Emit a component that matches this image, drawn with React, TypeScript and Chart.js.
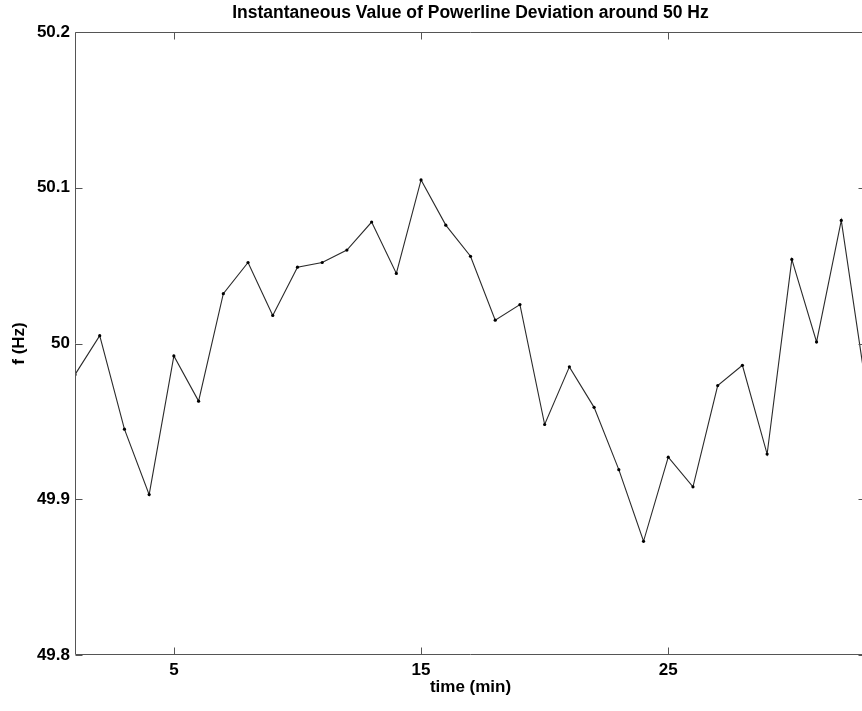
import React, { useEffect, useRef } from "react";
import { Chart, registerables } from "chart.js";

Chart.register(...registerables);

const TITLE = "Instantaneous Value of Powerline Deviation around 50 Hz";
const X_LABEL = "time (min)";
const Y_LABEL = "f (Hz)";

const TIME = [1, 2, 3, 4, 5, 6, 7, 8, 9, 10, 11, 12, 13, 14, 15, 16, 17, 18, 19, 20, 21, 22, 23, 24, 25, 26, 27, 28, 29, 30, 31, 32, 33];
const FREQ = [
  49.98, 50.005, 49.945, 49.903, 49.992, 49.963, 50.032, 50.052, 50.018, 50.049, 50.052,
  50.06, 50.078, 50.045, 50.105, 50.076, 50.056, 50.015, 50.025, 49.948, 49.985, 49.959,
  49.919, 49.873, 49.927, 49.908, 49.973, 49.986, 49.929, 50.054, 50.001, 50.079, 49.972,
];
const X_TICKS = [5, 15, 25];
const Y_TICKS = [49.8, 49.9, 50, 50.1, 50.2];
const X_MIN = 1;
const X_MAX = 33;
const Y_MIN = 49.8;
const Y_MAX = 50.2;

const FONT = "'Liberation Sans', Arial, Helvetica, sans-serif";

const boxTicksPlugin = {
  id: "boxTicks",
  afterDraw(chart: any) {
    const { ctx, chartArea, scales } = chart;
    const { left, right, top, bottom } = chartArea;
    const len = 7;
    ctx.save();
    ctx.strokeStyle = "#555";
    ctx.lineWidth = 1;
    const L = Math.round(left) + 0.5;
    const R = Math.round(right) - 0.5;
    const T = Math.round(top) + 0.5;
    const B = Math.round(bottom) - 0.5;
    ctx.beginPath();
    ctx.rect(L, T, R - L, B - T);
    for (const v of X_TICKS) {
      const px = Math.round(scales.x.getPixelForValue(v)) + 0.5;
      ctx.moveTo(px, B);
      ctx.lineTo(px, B - len);
      ctx.moveTo(px, T);
      ctx.lineTo(px, T + len);
    }
    for (const v of Y_TICKS) {
      const py = Math.round(scales.y.getPixelForValue(v)) + 0.5;
      ctx.moveTo(L, py);
      ctx.lineTo(L + len, py);
      ctx.moveTo(R, py);
      ctx.lineTo(R - len, py);
    }
    ctx.stroke();
    // title centred over the plot box
    ctx.fillStyle = "#000";
    ctx.font = `bold 17.5px ${FONT}`;
    ctx.textAlign = "center";
    ctx.textBaseline = "middle";
    ctx.fillText(TITLE, (left + right) / 2, 12.8);
    ctx.restore();
  },
};

export default function App() {
  const ref = useRef<HTMLCanvasElement | null>(null);

  useEffect(() => {
    if (!ref.current) return;
    Chart.defaults.font.family = FONT;
    const chart = new Chart(ref.current, {
      type: "line",
      data: {
        datasets: [
          {
            label: TITLE,
            data: TIME.map((t, i) => ({ x: t, y: FREQ[i] })),
            borderColor: "#2a2a2a",
            borderWidth: 1.1,
            pointRadius: 1.6,
            pointBackgroundColor: "#000",
            pointBorderColor: "#000",
            pointBorderWidth: 0,
            tension: 0,
          },
        ],
      },
      options: {
        responsive: false,
        animation: false,
        devicePixelRatio: 1,
        layout: { padding: { left: 0, right: 0, top: 32, bottom: 0 } },
        plugins: {
          legend: { display: false },
          tooltip: { enabled: false },
          title: { display: false },
        },
        scales: {
          x: {
            type: "linear",
            min: X_MIN,
            max: X_MAX,
            afterBuildTicks: (s: any) => {
              s.ticks = X_TICKS.map((v) => ({ value: v }));
            },
            afterFit: (s: any) => {
              s.height = 56;
            },
            grid: { display: false, drawTicks: false },
            border: { display: false },
            ticks: {
              color: "#000",
              padding: 5,
              maxRotation: 0,
              font: { family: FONT, size: 17, weight: "bold" },
              callback: (v: any) => String(v),
            },
            title: {
              display: true,
              text: X_LABEL,
              color: "#000",
              font: { family: FONT, size: 17, weight: "bold", lineHeight: 1.2 },
              padding: { top: 0, bottom: 13.4 },
            },
          },
          y: {
            type: "linear",
            min: Y_MIN,
            max: Y_MAX,
            afterBuildTicks: (s: any) => {
              s.ticks = Y_TICKS.map((v) => ({ value: v }));
            },
            afterFit: (s: any) => {
              s.width = 75;
            },
            grid: { display: false, drawTicks: false },
            border: { display: false },
            ticks: {
              color: "#000",
              padding: 5,
              font: { family: FONT, size: 17, weight: "bold" },
              callback: (v: any) => String(Number(Number(v).toFixed(1))),
            },
            title: {
              display: true,
              text: Y_LABEL,
              color: "#000",
              font: { family: FONT, size: 17, weight: "bold", lineHeight: 1.2 },
              padding: { top: 9, bottom: 0 },
            },
          },
        },
      },
      plugins: [boxTicksPlugin],
    } as any);
    return () => chart.destroy();
  }, []);

  return (
    <div
      style={{
        position: "fixed",
        left: 0,
        top: 0,
        width: 862,
        height: 711,
        overflow: "hidden",
        background: "#fff",
      }}
    >
      <canvas ref={ref} width={870} height={711} style={{ display: "block" }} />
    </div>
  );
}
